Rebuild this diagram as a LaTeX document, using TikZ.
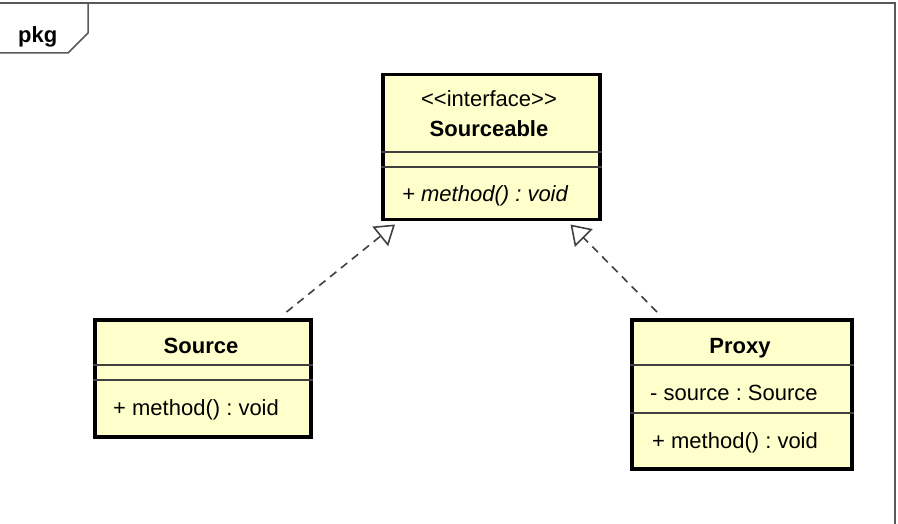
\documentclass[tikz,border=0pt]{standalone}
\usepackage{fontspec}
\setmainfont{Liberation Sans}
\usetikzlibrary{arrows.meta,shadows,calc}
\definecolor{umlfill}{RGB}{255,255,204}
\definecolor{umlline}{RGB}{64,64,64}
\tikzset{
  classbox/.style={draw=black, line width=3.5pt, fill=umlfill, rectangle, anchor=north west, inner sep=0pt,
    drop shadow={shadow xshift=1.5pt, shadow yshift=-1.5pt, fill=black!35, opacity=1}},
  sepline/.style={line width=1.3pt, black!75},
  realize/.style={dash pattern=on 8pt off 6pt, line width=1.6pt, umlline,
    -{Triangle[open, length=19pt, width=25pt]}},
  txt/.style={font=\fontsize{22}{26}\selectfont, inner sep=0pt, anchor=base},
  txtb/.style={txt, font=\fontsize{22}{26}\selectfont\bfseries},
  framel/.style={line width=1.5pt, black!65}
}
\frenchspacing
\begin{document}
\begin{tikzpicture}[x=1pt, y=-1pt]
\useasboundingbox (0,0) rectangle (898,524);

% package frame and tab
\draw[framel] (0,3) -- (895,3) -- (895,524);
\draw[framel] (88,3) -- (88,33) -- (68,53) -- (0,53);
\node[txtb, anchor=base west] (pkg) at (18,43) {pkg};

% class boxes
\node[classbox, minimum width=217pt, minimum height=145pt] (sourceable) at (381,73) {};
\node[classbox, minimum width=216pt, minimum height=117pt] (source) at (93,318) {};
\node[classbox, minimum width=220pt, minimum height=149pt] (proxy) at (630,318) {};

% compartments
\draw[sepline] ($(sourceable.north west)+(0,79)$) -- ($(sourceable.north east)+(0,79)$);
\draw[sepline] ($(sourceable.north west)+(0,94)$) -- ($(sourceable.north east)+(0,94)$);
\draw[sepline] ($(source.north west)+(0,47)$) -- ($(source.north east)+(0,47)$);
\draw[sepline] ($(source.north west)+(0,62)$) -- ($(source.north east)+(0,62)$);
\draw[sepline] ($(proxy.north west)+(0,47)$) -- ($(proxy.north east)+(0,47)$);
\draw[sepline] ($(proxy.north west)+(0,95)$) -- ($(proxy.north east)+(0,95)$);

% texts
\node[txt] (stereo) at (489,107) {<\kern0pt<interface>\kern0pt>};
\node[txtb] (ifname) at (489,137) {Sourceable};
\node[txt, anchor=base west, font=\fontsize{22}{26}\selectfont\itshape] (ifop) at (402,202) {+ method() : void};

\node[txtb] (srcname) at (201,353) {Source};
\node[txt, anchor=base west] (srcop) at (113,415) {+ method() : void};

\node[txtb] (pxname) at (740,353) {Proxy};
\node[txt, anchor=base west] (pxattr) at (650,400) {- source : Source};
\node[txt, anchor=base west] (pxop) at (652,448) {+ method() : void};

% realizations
\draw[realize] ($(source.north east)+(-26,-6)$) -- ($(sourceable.south west)+(14,3)$);
\draw[realize] ($(proxy.north west)+(27,-6)$) -- ($(sourceable.south east)+(-31,3)$);

\end{tikzpicture}
\end{document}
